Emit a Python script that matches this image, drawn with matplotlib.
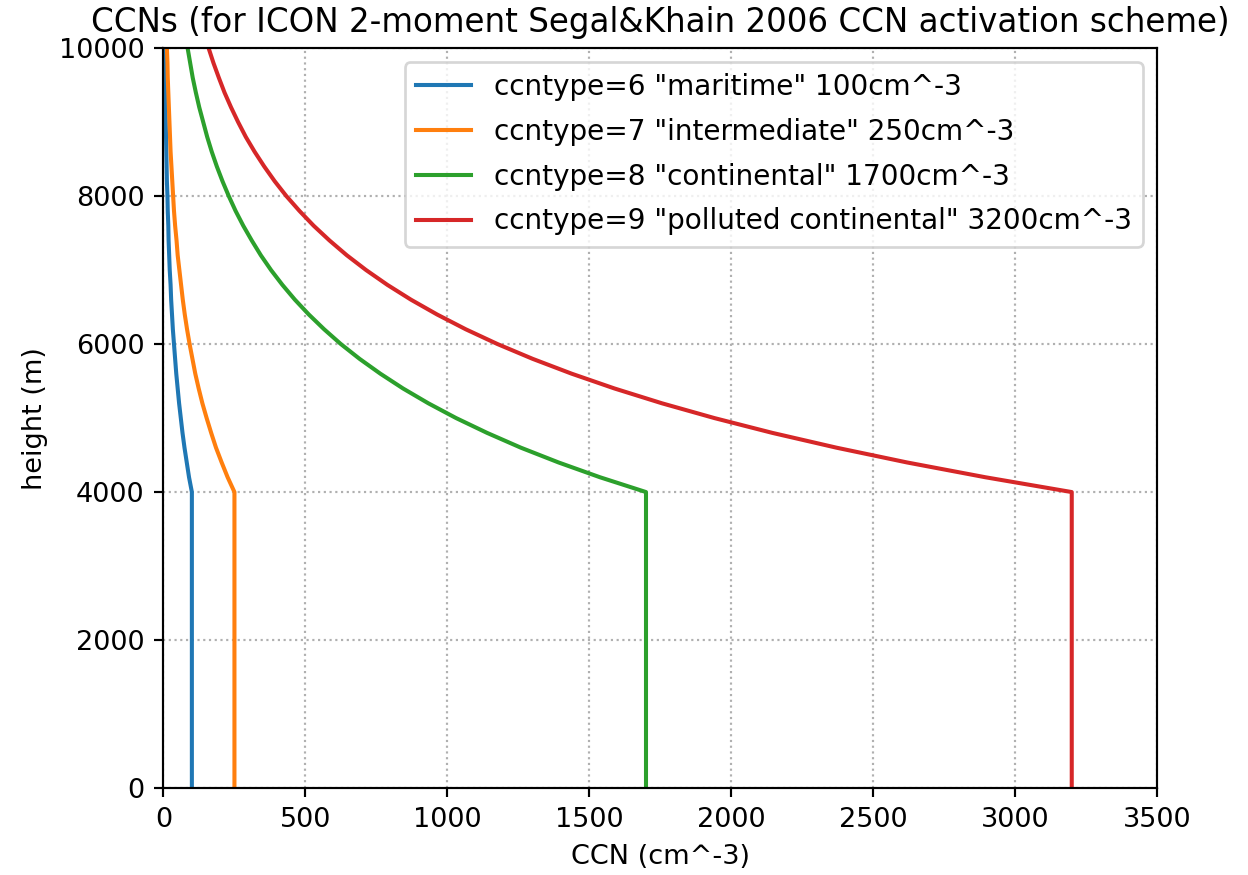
import matplotlib
matplotlib.use("Agg")
import matplotlib.pyplot as plt

height = [0, 4000, 4200, 4400, 4600, 4800, 5000, 5200, 5400, 5600, 5800, 6000,
          6200, 6400, 6600, 6800, 7000, 7200, 7400, 7600, 7800, 8000, 8200, 8400,
          8600, 8800, 9000, 9200, 9400, 9600, 9800, 10000]

# CCN (cm^-3) per ccntype
ccn_maritime = [100, 100, 90, 82, 74, 67, 61, 55, 50, 45, 41, 37, 33, 30, 27, 25,
                22, 20, 18, 17, 15, 14, 12, 11, 10, 9, 8, 7, 7, 6, 6, 5]
ccn_intermediate = [250, 250, 226, 205, 185, 168, 152, 137, 124, 112, 102, 92, 83,
                    75, 68, 62, 56, 50, 46, 41, 37, 34, 31, 28, 25, 23, 21, 19, 17,
                    15, 14, 12]
ccn_continental = [1700, 1700, 1538, 1392, 1259, 1140, 1031, 933, 844, 764, 691, 625,
                   566, 512, 463, 419, 379, 343, 311, 281, 254, 230, 208, 188, 170,
                   154, 140, 126, 114, 103, 94, 85]
ccn_polluted = [3200, 3200, 2896, 2620, 2371, 2145, 1941, 1756, 1589, 1438, 1301,
                1177, 1065, 964, 872, 789, 714, 646, 585, 529, 479, 433, 392, 355,
                321, 290, 263, 238, 215, 195, 176, 159]

labels = ['ccntype=6 "maritime" 100cm^-3',
          'ccntype=7 "intermediate" 250cm^-3',
          'ccntype=8 "continental" 1700cm^-3',
          'ccntype=9 "polluted continental" 3200cm^-3']

fig, ax = plt.subplots(figsize=(12.48 / 1.95, 8.75 / 1.95), dpi=195)
fig.subplots_adjust(left=0.131, right=0.927, top=0.945, bottom=0.0994)

for vals, lab in zip([ccn_maritime, ccn_intermediate, ccn_continental, ccn_polluted], labels):
    ax.plot(vals, height, label=lab)

ax.set_xlim(0, 3500)
ax.set_ylim(0, 10000)
ax.grid(True, linestyle=":")
ax.set_xlabel("CCN (cm^-3)")
ax.set_ylabel("height (m)")
ax.set_title("CCNs (for ICON 2-moment Segal&Khain 2006 CCN activation scheme)")
ax.legend(loc="upper right", fontsize=10.3, labelspacing=0.6)

fig.savefig("out.png", dpi=195)
